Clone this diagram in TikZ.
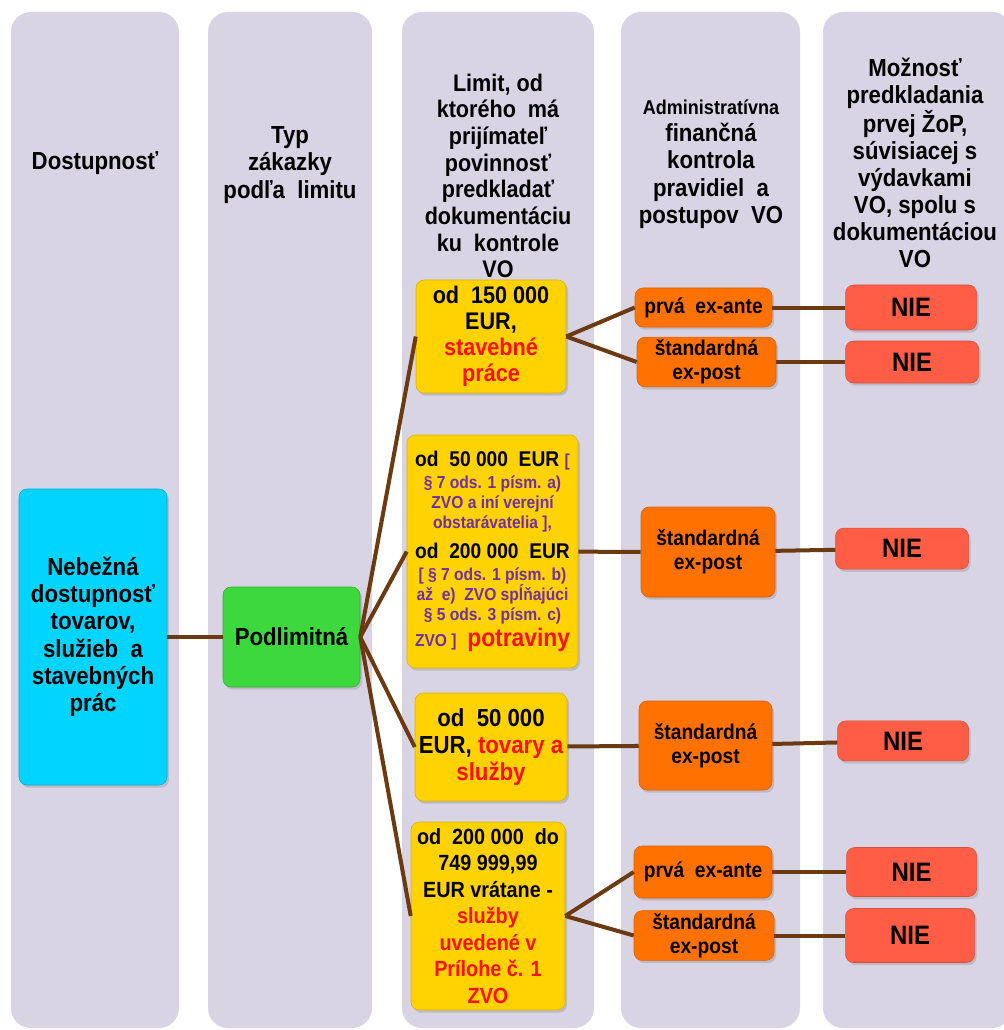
\documentclass[tikz,border=0pt]{standalone}
\usepackage{fontspec}
\setmainfont{Liberation Sans}[FakeStretch=0.9]
\usepackage{tikz}
\usetikzlibrary{shapes,shadows}
\usetikzlibrary{positioning}
\definecolor{lanefill}{HTML}{D8D4E4}
\definecolor{accessfill}{HTML}{00D4FF}
\definecolor{typefill}{HTML}{3DD83D}
\definecolor{limitfill}{HTML}{FFD200}
\definecolor{controlfill}{HTML}{FF7100}
\definecolor{niefill}{HTML}{FF5D45}
\definecolor{branch}{HTML}{6B3A10}
\definecolor{paragraf}{HTML}{7030A0}
\definecolor{alerttext}{HTML}{FF1010}
\newcommand{\redtext}[1]{\textcolor{alerttext}{#1}}
\newcommand{\paratext}[1]{{\fontsize{13}{15}\selectfont\color{paragraf}#1}}
\tikzstyle{lane} = [fill=lanefill, rounded corners=15pt]
\tikzstyle{head} = [align=center, inner sep=0pt,
    font=\fontsize{18.5}{20.5}\selectfont\bfseries]
\tikzstyle{box} = [rectangle, rounded corners=6pt, align=center, inner sep=2pt,
    font=\fontsize{18.5}{20.5}\selectfont\bfseries,
    drop shadow={shadow xshift=1.5pt, shadow yshift=-2pt, opacity=0.3}]
\tikzstyle{accessbox} = [box, fill=accessfill, draw=accessfill!80!black]
\tikzstyle{typebox} = [box, fill=typefill, draw=typefill!80!black]
\tikzstyle{limitbox} = [box, fill=limitfill, draw=limitfill!85!black]
\tikzstyle{controlbox} = [box, fill=controlfill, draw=controlfill!85!black,
    font=\fontsize{16}{18}\selectfont\bfseries]
\tikzstyle{niebox} = [box, fill=niefill, draw=niefill!85!black,
    font=\fontsize{20}{22}\selectfont\bfseries]
\tikzstyle{branchline} = [draw=branch, line width=3pt]

\begin{document}
\begin{tikzpicture}[x=0.75pt, y=-0.75pt]
  \useasboundingbox [fill=white] (0,0) rectangle (1003,1030);
  % Columns
  \fill [lane] (11,12) rectangle (179,1028);
  \fill [lane] (208,12) rectangle (372,1028);
  \fill [lane] (402,12) rectangle (594,1028);
  \fill [lane] (621,12) rectangle (800,1028);
  \fill [lane] (823,12) rectangle (1012,1028);
  % Column heads
  \node [head] (headAccess) at (95,163) {Dostupnosť};
  \node [head] (headType) at (290,165) {Typ\\zákazky\\podľa~ limitu};
  \node [head, font=\fontsize{18}{20}\selectfont\bfseries] (headLimit)
    at (498,176) {Limit, od\\ktorého~ má\\prijímateľ\\povinnosť\\predkladať\\
    dokumentáciu\\ku~ kontrole\\VO};
  \node [head] (headControl) at (711,164)
    {{\fontsize{15}{18}\selectfont Administratívna}\\finančná\\kontrola\\
    pravidiel~ a\\postupov~ VO};
  \node [head, font=\fontsize{18.5}{20.3}\selectfont\bfseries] (headClaim)
    at (915,163) {Možnosť\\predkladania\\prvej ŽoP,\\súvisiacej s\\výdavkami\\
    VO, spolu s\\dokumentáciou\\VO};
  % Place nodes
  \node [accessbox, minimum width=111pt, minimum height=222pt] (access)
    at (93,637) {Nebežná\\dostupnosť\\tovarov,\\služieb~ a\\stavebných\\prác};
  \node [typebox, minimum width=102.75pt, minimum height=75pt] (type)
    at (291.5,637) {Podlimitná};
  \node [limitbox, minimum width=112.5pt, minimum height=84.75pt,
    font=\fontsize{18}{19.5}\selectfont\bfseries] (limitA) at (491,336.5)
    {od~ 150 000\\EUR,\\\redtext{stavebné}\\\redtext{práce}};
  \node [limitbox, minimum width=128.25pt, minimum height=174.75pt,
    font=\fontsize{16}{15}\selectfont\bfseries] (limitB) at (492.5,551.5)
    {od~ 50 000~ EUR \paratext{[}\\[2pt]
     \paratext{§ 7 ods. 1 písm. a)}\\
     \paratext{ZVO a iní verejní}\\
     \paratext{obstarávatelia ],}\\[7pt]
     od~ 200 000~ EUR\\[2pt]
     \paratext{[ § 7 ods. 1 písm. b)}\\
     \paratext{až~ e)~ ZVO spĺňajúci}\\
     \paratext{§ 5 ods. 3 písm. c)}\\[2pt]
     \paratext{ZVO ]}~ {\fontsize{19}{20}\selectfont\redtext{potraviny}}};
  \node [limitbox, minimum width=114pt, minimum height=81pt] (limitC)
    at (491,747) {od~ 50 000\\EUR, \redtext{tovary a}\\\redtext{služby}};
  \node [limitbox, minimum width=115.5pt, minimum height=141pt,
    font=\fontsize{16.5}{19.9}\selectfont\bfseries] (limitD) at (488,916)
    {od~ 200 000~ do\\749 999,99\\EUR vrátane -\\\redtext{služby}\\
    \redtext{uvedené v}\\\redtext{Prílohe č. 1}\\\redtext{ZVO}};
  \node [controlbox, minimum width=102.75pt, minimum height=29.25pt] (ctrlA1)
    at (703.5,307.5) {prvá~ ex-ante};
  \node [controlbox, minimum width=104.25pt, minimum height=36pt] (ctrlA2)
    at (706.5,362) {štandardná\\ex-post};
  \node [controlbox, minimum width=100.5pt, minimum height=67.5pt] (ctrlB)
    at (708,552) {štandardná\\ex-post};
  \node [controlbox, minimum width=99.75pt, minimum height=66.75pt] (ctrlC)
    at (705.5,745.5) {štandardná\\ex-post};
  \node [controlbox, minimum width=103.5pt, minimum height=39pt] (ctrlD1)
    at (703,872) {prvá~ ex-ante};
  \node [controlbox, minimum width=105pt, minimum height=36.75pt] (ctrlD2)
    at (704,935.5) {štandardná\\ex-post};
  \node [niebox, right=54.75pt of ctrlA1, minimum width=98.25pt,
    minimum height=33.75pt] (nieA1) {NIE};
  \node [niebox, right=51.75pt of ctrlA2, minimum width=99.75pt,
    minimum height=31.5pt] (nieA2) {NIE};
  \node [niebox, right=45pt of ctrlB, yshift=2.5pt, minimum width=99.75pt,
    minimum height=30.75pt] (nieB) {NIE};
  \node [niebox, right=48.75pt of ctrlC, yshift=3.4pt, minimum width=98.25pt,
    minimum height=30pt] (nieC) {NIE};
  \node [niebox, right=55.5pt of ctrlD1, minimum width=97.5pt,
    minimum height=36.75pt] (nieD1) {NIE};
  \node [niebox, right=53.25pt of ctrlD2, minimum width=96.75pt,
    minimum height=40.5pt] (nieD2) {NIE};
  % Draw edges
  \draw [branchline] (access) -- (type);
  \draw [branchline] (type.east) -- (limitA.west);
  \draw [branchline] (type.east) -- (limitB.west);
  \draw [branchline] (type.east) -- (limitC.west);
  \draw [branchline] (type.east) -- (limitD.west);
  \draw [branchline] (limitA.east) -- (ctrlA1.west);
  \draw [branchline] (limitA.east) -- (ctrlA2.west);
  \draw [branchline] (limitB) -- (ctrlB);
  \draw [branchline] (limitC) -- (ctrlC);
  \draw [branchline] (limitD.east) -- (ctrlD1.west);
  \draw [branchline] (limitD.east) -- (ctrlD2.west);
  \draw [branchline] (ctrlA1) -- (nieA1);
  \draw [branchline] (ctrlA2) -- (nieA2);
  \draw [branchline] (ctrlB) -- (nieB);
  \draw [branchline] (ctrlC) -- (nieC);
  \draw [branchline] (ctrlD1) -- (nieD1);
  \draw [branchline] (ctrlD2) -- (nieD2);
\end{tikzpicture}
\end{document}
